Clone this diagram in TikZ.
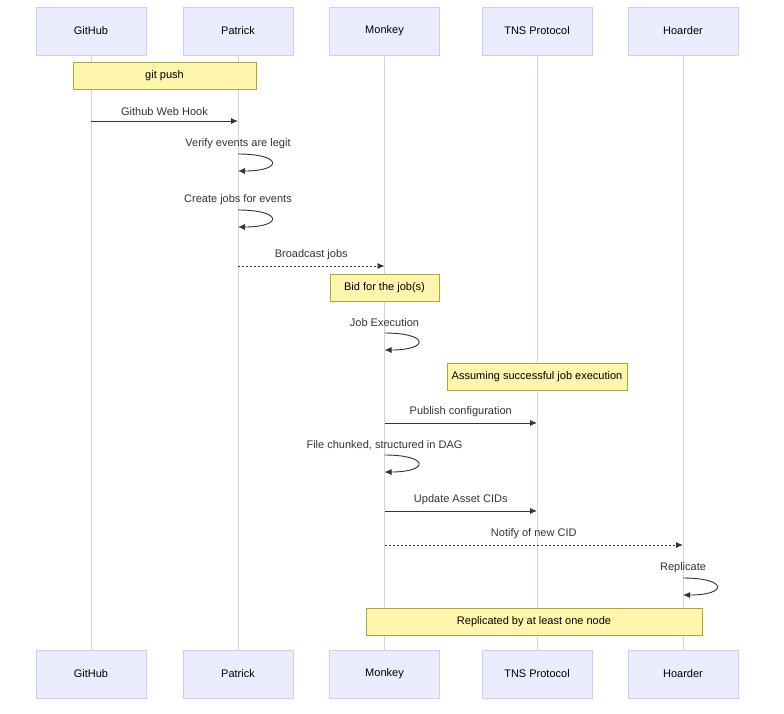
\documentclass[tikz,border=0pt]{standalone}
\usepackage{fontspec}
\setmainfont{Liberation Sans}
\usetikzlibrary{arrows.meta, positioning}
\definecolor{actorfill}{HTML}{ECECFF}
\definecolor{actorline}{HTML}{CCCCFF}
\definecolor{notefill}{HTML}{FFF5AD}
\definecolor{noteline}{HTML}{AAAA33}
\definecolor{msgline}{HTML}{333333}
\tikzset{
    actor/.style={draw=actorline, fill=actorfill, minimum width=110pt, minimum height=48pt, font=\fontsize{11}{13}\selectfont},
    note/.style={draw=noteline, fill=notefill, minimum height=27pt, inner sep=0pt, font=\fontsize{11}{13}\selectfont},
    lifeline/.style={draw=actorline!70!gray!60, line width=1pt},
    msg/.style={draw=msgline, line width=0.9pt, -{Latex[length=7pt,width=6pt]}},
    label/.style={font=\fontsize{11}{13}\selectfont, text=msgline}
}
\begin{document}
\begin{tikzpicture}[x=1pt, y=-1pt]
\useasboundingbox (0,0) rectangle (784,713);

% actors
\foreach \name/\x/\txt in {gh/91/GitHub, pa/238/Patrick, mo/384.5/Monkey, tns/537/TNS Protocol, ho/683/Hoarder} {
    \node[actor] (\name top) at (\x,31) {\txt};
    \node[actor] (\name bot) at (\x,674) {\txt};
    \draw[lifeline] (\name top) -- (\name bot);
}

% notes
\node[note, minimum width=183pt] (n1) at (164.5,75.5) {git push};
\node[note, minimum width=109pt] (n2) at (384.5,287.5) {Bid for the job(s)};
\node[note, minimum width=180pt] (n3) at (537,376.5) {Assuming successful job execution};
\node[note, minimum width=336pt] (n4) at (534,621.5) {Replicated by at least one node};

% messages
\coordinate (a1) at (91,121);   \coordinate (b1) at (238,121);
\coordinate (a2) at (238,266);  \coordinate (b2) at (384.5,266);
\coordinate (a3) at (384.5,423); \coordinate (b3) at (537,423);
\coordinate (a4) at (384.5,511); \coordinate (b4) at (537,511);
\coordinate (a5) at (384.5,545); \coordinate (b5) at (683,545);

\draw[msg] (a1) -- node[label, above=2pt] {Github Web Hook} (b1);
\draw[msg, dashed, dash pattern=on 2pt off 2pt] (a2) -- node[label, above=2pt] {Broadcast jobs} (b2);
\draw[msg] (a3) -- node[label, above=2pt] {Publish configuration} (b3);
\draw[msg] (a4) -- node[label, above=2pt] {Update Asset CIDs} (b4);
\draw[msg, dashed, dash pattern=on 2pt off 2pt] (a5) -- node[label, above=2pt] {Notify of new CID} (b5);

% self messages
\foreach \n/\x/\y/\txt in {s1/238/154/Verify events are legit, s2/238/210/Create jobs for events, s3/384.5/333/Job Execution, s4/384.5/455/{File chunked, structured in DAG}, s5/683/578/Replicate} {
    \coordinate (\n a) at (\x,\y);
    \coordinate (\n b) at (\x,\y+17);
    \node[label] (\n) at (\x,\y-10) {\txt};
    \draw[msg] (\n a) .. controls (\x+45,\y) and (\x+45,\y+17) .. (\n b);
}
\end{tikzpicture}
\end{document}
